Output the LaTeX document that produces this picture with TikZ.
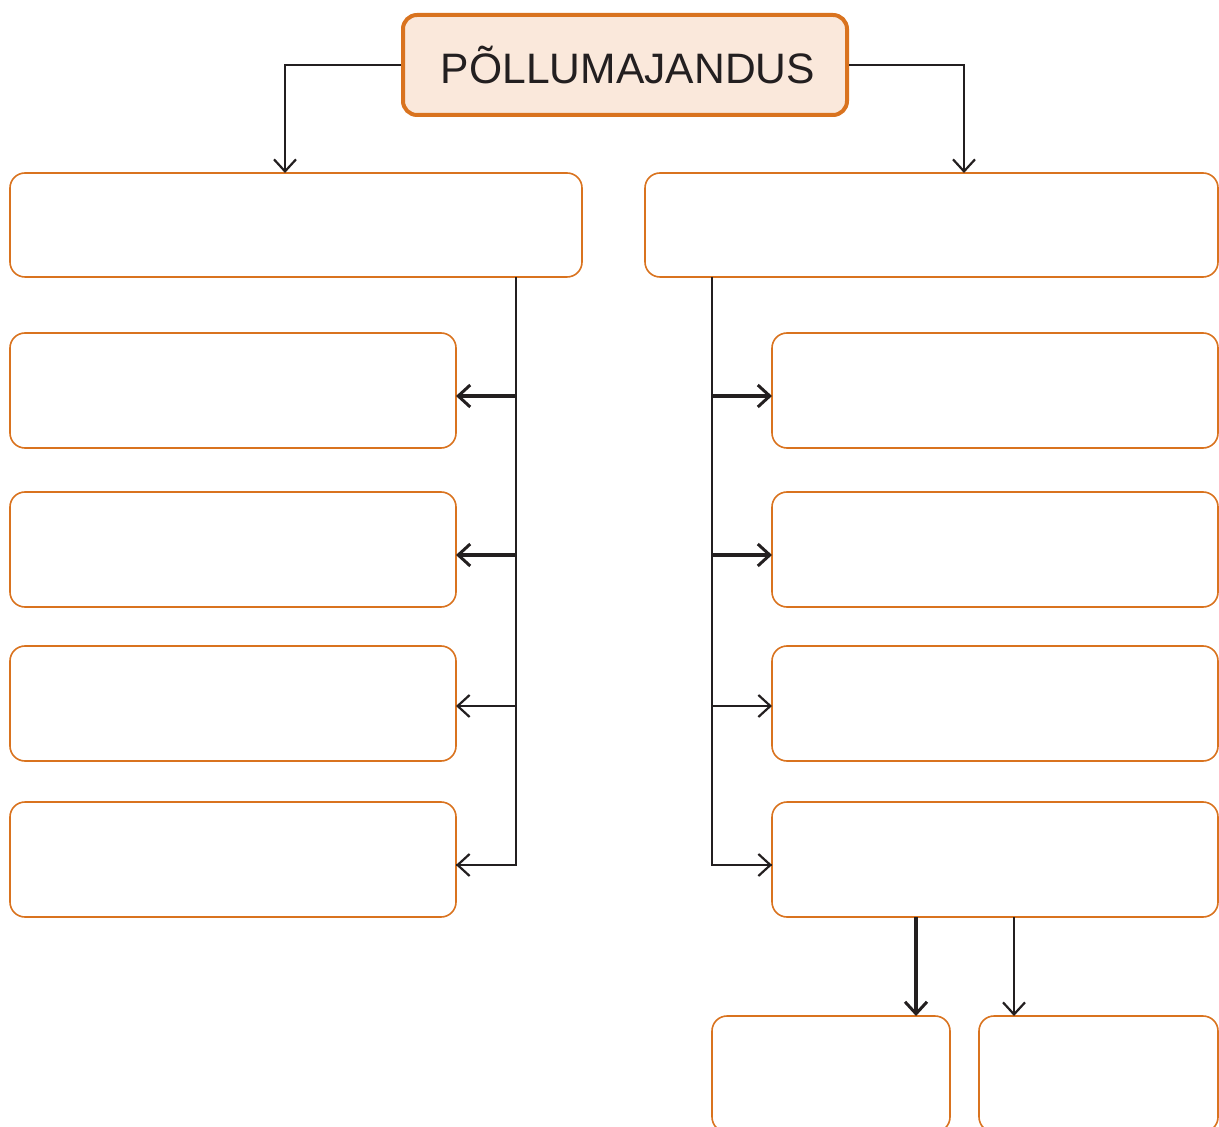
\documentclass[tikz,border=0pt]{standalone}
\usepackage{fontspec}
\setmainfont{Liberation Sans}
\usepackage{xcolor}
\usetikzlibrary{arrows.meta}

\definecolor{oranz}{HTML}{D9731F}
\definecolor{heleoranz}{HTML}{FAE8DB}
\definecolor{tume}{HTML}{231F20}

\tikzset{
  kast/.style={draw=oranz,line width=0.8pt,rounded corners=7.5pt,inner sep=0pt,outer sep=0pt},
  pealkiri/.style={draw=oranz,line width=2pt,fill=heleoranz,rounded corners=7pt,inner sep=0pt,
    minimum width=222pt,minimum height=50pt,text=tume,font=\fontsize{21.3pt}{25pt}\selectfont},
  nool/.style={draw=tume,line width=1.1pt,-{Straight Barb[length=6pt,width=11pt,line width=1.1pt]}},
  paks/.style={draw=tume,line width=1.8pt,-{Straight Barb[length=6pt,width=11pt,line width=1.5pt]}},
  joon/.style={draw=tume,line width=1.1pt}
}

\begin{document}
\begin{tikzpicture}[x=0.5pt,y=-0.5pt]
                \useasboundingbox (0,0) rectangle (1219,1127);
                \clip (0,0) rectangle (1219,1127);

                % pealkiri
                \node[pealkiri] (top) at (625,65) {\hspace{3pt}PÕLLUMAJANDUS};

                % esimene rida
                \node[kast,minimum width=286pt,minimum height=52pt] (l1) at (296,225) {};
                \node[kast,minimum width=286.5pt,minimum height=52pt] (r1) at (931.5,225) {};

                % vasak tulp
                \node[kast,minimum width=223pt,minimum height=57.5pt] (l2) at (233,390.5) {};
                \node[kast,minimum width=223pt,minimum height=57.5pt] (l3) at (233,549.5) {};
                \node[kast,minimum width=223pt,minimum height=57.5pt] (l4) at (233,703.5) {};
                \node[kast,minimum width=223pt,minimum height=57.5pt] (l5) at (233,859.5) {};

                % parem tulp
                \node[kast,minimum width=223pt,minimum height=57.5pt] (r2) at (995,390.5) {};
                \node[kast,minimum width=223pt,minimum height=57.5pt] (r3) at (995,549.5) {};
                \node[kast,minimum width=223pt,minimum height=57.5pt] (r4) at (995,703.5) {};
                \node[kast,minimum width=223pt,minimum height=57.5pt] (r5) at (995,859.5) {};

                % alumised
                \node[kast,minimum width=119pt,minimum height=58pt] (a1) at (831,1074) {};
                \node[kast,minimum width=119.5pt,minimum height=58pt] (a2) at (1098.5,1074) {};

                % pealkirjast alla
                \draw[nool] (top.west) -| ([xshift=-5.5pt]l1.north);
                \draw[nool] (top.east) -| ([xshift=16.25pt]r1.north);

                % vasak haru
                \draw[joon] ([xshift=110pt]l1.south) |- ([yshift=-2.75pt]l5.east);
                \draw[paks] ([xshift=110pt,yshift=-2.75pt]l1.south |- l2.east) -- ([yshift=-2.75pt]l2.east);
                \draw[paks] ([xshift=110pt,yshift=-2.75pt]l1.south |- l3.east) -- ([yshift=-2.75pt]l3.east);
                \draw[nool] ([xshift=110pt,yshift=-1.25pt]l1.south |- l4.east) -- ([yshift=-1.25pt]l4.east);
                \draw[nool] ([xshift=110pt,yshift=-2.75pt]l1.south |- l5.east) -- ([yshift=-2.75pt]l5.east);

                % parem haru
                \draw[joon] ([xshift=-109.75pt]r1.south) |- ([yshift=-2.75pt]r5.west);
                \draw[paks] ([xshift=-109.75pt,yshift=-2.75pt]r1.south |- r2.west) -- ([yshift=-2.75pt]r2.west);
                \draw[paks] ([xshift=-109.75pt,yshift=-2.75pt]r1.south |- r3.west) -- ([yshift=-2.75pt]r3.west);
                \draw[nool] ([xshift=-109.75pt,yshift=-1.25pt]r1.south |- r4.west) -- ([yshift=-1.25pt]r4.west);
                \draw[nool] ([xshift=-109.75pt,yshift=-2.75pt]r1.south |- r5.west) -- ([yshift=-2.75pt]r5.west);

                % viimasest kastist alla
                \draw[paks] (r5.south -| a1.north east) ++(-17pt,0) -- ([xshift=-17pt]a1.north east);
                \draw[nool] ([xshift=17.5pt]a2.north west |- r5.south) -- ([xshift=17.5pt]a2.north west);
            \end{tikzpicture}
\end{document}
